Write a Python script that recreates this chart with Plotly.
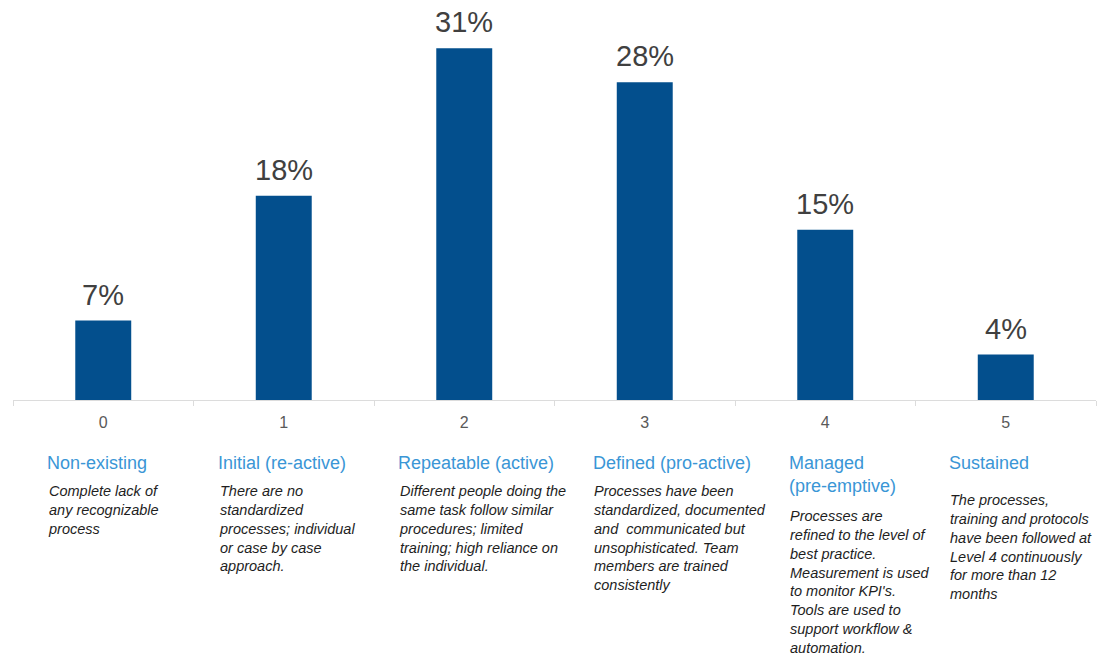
import plotly.graph_objects as go

# Maturity levels and share of respondents at each level
levels = ["0", "1", "2", "3", "4", "5"]
shares = [7, 18, 31, 28, 15, 4]

level_names = [
    "Non-existing",
    "Initial (re-active)",
    "Repeatable (active)",
    "Defined (pro-active)",
    "Managed<br>(pre-emptive)",
    "Sustained",
]
level_descriptions = [
    "Complete lack of<br>any recognizable<br>process",
    "There are no<br>standardized<br>processes; individual<br>or case by case<br>approach.",
    "Different people doing the<br>same task follow similar<br>procedures; limited<br>training; high reliance on<br>the individual.",
    "Processes have been<br>standardized, documented<br>and  communicated but<br>unsophisticated. Team<br>members are trained<br>consistently",
    "Processes are<br>refined to the level of<br>best practice.<br>Measurement is used<br>to monitor KPI's.<br>Tools are used to<br>support workflow &<br>automation.",
    "The processes,<br>training and protocols<br>have been followed at<br>Level 4 continuously<br>for more than 12<br>months",
]

W, H = 1105, 657
PLOT_L, PLOT_R, PLOT_T, PLOT_B = 13, 1096, 10, 400

BAR_COLOR = "#034f8d"
NAME_COLOR = "#3a96d6"
FONT = "Liberation Sans, Arial, sans-serif"


def px_x(px):
    return (px - PLOT_L) / (PLOT_R - PLOT_L)


def px_y(py):
    return (PLOT_B - py) / (PLOT_B - PLOT_T)


fig = go.Figure(
    go.Bar(
        x=levels,
        y=shares,
        width=0.31,
        marker=dict(color=BAR_COLOR, line=dict(width=0)),
        cliponaxis=False,
        hoverinfo="x+y",
    )
)

annotations = []

# percentage labels above each bar
for lvl, val in zip(levels, shares):
    annotations.append(dict(
        x=lvl, y=val, xref="x", yref="y",
        xanchor="center", yanchor="bottom", yshift=8, showarrow=False,
        text=f"{val}%",
        font=dict(size=29, color="#404040", family=FONT),
    ))

# column text positions (left edge, title top, description top)
name_x = [45, 216, 396, 591, 787, 947]
name_top = [451, 451, 451, 451, 451, 451]
desc_top = [481, 481, 481, 481, 506, 490]

for i in range(len(levels)):
    annotations.append(dict(
        x=px_x(name_x[i]), y=px_y(name_top[i]), xref="paper", yref="paper",
        xanchor="left", yanchor="top", align="left", showarrow=False,
        text=level_names[i],
        font=dict(size=18, color=NAME_COLOR, family=FONT),
    ))
    annotations.append(dict(
        x=px_x(name_x[i] + 1), y=px_y(desc_top[i]), xref="paper", yref="paper",
        xanchor="left", yanchor="top", align="left", showarrow=False,
        text="<i>" + level_descriptions[i] + "</i>",
        font=dict(size=14.5, color="#1e1e1e", family=FONT),
    ))

fig.update_layout(
    width=W,
    height=H,
    margin=dict(l=PLOT_L, r=W - PLOT_R, t=PLOT_T, b=H - PLOT_B, pad=0),
    paper_bgcolor="white",
    plot_bgcolor="white",
    showlegend=False,
    annotations=annotations,
    font=dict(family=FONT),
    xaxis=dict(
        type="category",
        tickson="boundaries",
        ticks="outside",
        ticklen=5,
        tickcolor="#dcdcdc",
        showline=True,
        linecolor="#dcdcdc",
        linewidth=1,
        showgrid=False,
        ticklabelstandoff=8,
        tickfont=dict(size=16, color="#595959", family=FONT),
        range=[-0.5, 5.5],
    ),
    yaxis=dict(
        range=[0, 34.36],
        visible=False,
        showgrid=False,
        zeroline=False,
    ),
)

fig.write_html("out.html")
